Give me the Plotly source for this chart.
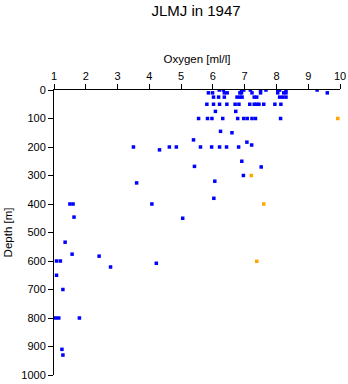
import plotly.graph_objects as go

# Blue series: oxygen [ml/l] and depth [m]
blue_oxygen = [
    6.2, 6.33, 6.9, 6.97, 7.18, 7.5, 7.67, 8.04, 8.1, 8.3, 9.28,
    5.86, 5.99, 6.36, 6.45, 6.85, 6.9, 7.23, 7.5, 8.04, 8.23, 8.3, 9.6,
    6.02, 6.18, 6.36, 6.76, 6.85, 6.92, 7.3, 7.38, 8.1, 8.2, 8.3,
    5.81, 6.02, 6.21, 6.44, 6.7, 6.82, 7.16, 7.3, 7.38, 7.45, 7.6, 7.95, 8.14,
    6.08, 6.72,
    5.55, 5.83, 5.97, 6.31, 6.78, 6.97, 7.08, 7.23, 7.34, 8.13,
    6.24, 6.6, 5.39, 7.07, 7.22,
    3.5, 4.63, 4.85, 5.61, 5.96, 6.21, 6.43, 6.81,
    4.32,
    6.91, 5.42, 7.52, 6.96, 6.06, 3.6, 6.03,
    1.5, 1.6, 4.08, 1.63, 5.05,
    1.35, 1.57, 2.42, 1.08, 1.2, 4.22, 2.78, 1.08, 1.28,
    1.05, 1.15, 1.8, 1.25, 1.28,
]
blue_depth = [
    0, 0, 0, 0, 0, 0, 0, 0, 0, 0, 0,
    10, 10, 10, 10, 10, 10, 10, 10, 10, 10, 10, 10,
    25, 25, 25, 25, 25, 25, 25, 25, 25, 25, 25,
    50, 50, 50, 50, 50, 50, 50, 50, 50, 50, 50, 50, 50,
    75, 75,
    100, 100, 100, 100, 100, 100, 100, 100, 100, 100,
    145, 150, 175, 183, 193,
    200, 200, 200, 200, 200, 200, 200, 200,
    210,
    250, 268, 270, 300, 320, 326, 380,
    400, 400, 400, 446, 450,
    534, 576, 583, 600, 600, 608, 621, 650, 700,
    800, 800, 800, 910, 930,
]

# Orange series
orange_oxygen = [9.93, 7.21, 7.6, 7.38]
orange_depth = [100, 300, 400, 601]

x_ticks = list(range(1, 11))
y_ticks = list(range(0, 1001, 100))

FONT = "Liberation Sans, Arial, sans-serif"

fig = go.Figure()
fig.add_trace(go.Scatter(
    x=blue_oxygen, y=blue_depth, mode="markers",
    marker=dict(symbol="square", size=3.5, color="#0000ff", line=dict(width=0)),
    showlegend=False, hoverinfo="skip",
))
fig.add_trace(go.Scatter(
    x=orange_oxygen, y=orange_depth, mode="markers",
    marker=dict(symbol="square", size=3.5, color="#ffa500", line=dict(width=0)),
    showlegend=False, hoverinfo="skip",
))

fig.update_layout(
    width=348, height=384,
    margin=dict(l=54, r=8, t=90, b=9, pad=0),
    paper_bgcolor="white", plot_bgcolor="white",
    font=dict(family=FONT, size=11, color="black"),
    title=dict(text="JLMJ in 1947", font=dict(family=FONT, size=15, color="black"),
               x=196 / 348, xref="container", xanchor="center",
               y=1 - 11 / 384, yref="container", yanchor="middle"),
    xaxis=dict(
        side="top", range=[1, 10], tickmode="array", tickvals=x_ticks,
        ticktext=[str(v) for v in x_ticks],
        showgrid=False, zeroline=False, showline=True, linecolor="black", linewidth=1,
        ticks="outside", ticklen=5, tickwidth=1, tickcolor="black",
        tickfont=dict(family=FONT, size=11),
        title=dict(text="Oxygen [ml/l]", font=dict(family=FONT, size=11.5), standoff=3),
        automargin=False,
    ),
    yaxis=dict(
        range=[1000, 0], tickmode="array", tickvals=y_ticks,
        ticktext=[str(v) for v in y_ticks],
        showgrid=False, zeroline=False, showline=True, linecolor="black", linewidth=1,
        ticks="outside", ticklen=5, tickwidth=1, tickcolor="black",
        tickfont=dict(family=FONT, size=11),
        title=dict(text="Depth [m]", font=dict(family=FONT, size=11.5), standoff=6),
        automargin=False,
    ),
)

fig.write_html("out.html")
